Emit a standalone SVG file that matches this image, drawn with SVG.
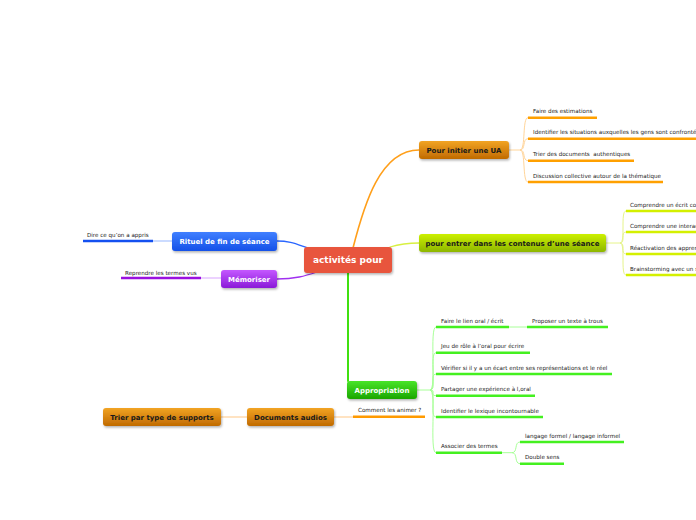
<svg xmlns="http://www.w3.org/2000/svg" width="696" height="520" viewBox="0 0 696 520">
<defs>
<linearGradient id="gOr" x1="0" y1="0" x2="0" y2="1"><stop offset="0" stop-color="#F2A424"/><stop offset="1" stop-color="#C06A00"/></linearGradient>
<linearGradient id="gYe" x1="0" y1="0" x2="0" y2="1"><stop offset="0" stop-color="#CCF000"/><stop offset="1" stop-color="#8DB600"/></linearGradient>
<linearGradient id="gGr" x1="0" y1="0" x2="0" y2="1"><stop offset="0" stop-color="#48E428"/><stop offset="1" stop-color="#1AA600"/></linearGradient>
<linearGradient id="gBl" x1="0" y1="0" x2="0" y2="1"><stop offset="0" stop-color="#4080FF"/><stop offset="1" stop-color="#1450E8"/></linearGradient>
<linearGradient id="gPu" x1="0" y1="0" x2="0" y2="1"><stop offset="0" stop-color="#C458FF"/><stop offset="1" stop-color="#8A1AD8"/></linearGradient>
<filter id="sh" x="-10%" y="-20%" width="125%" height="160%"><feDropShadow dx="1" dy="1.5" stdDeviation="1.2" flood-color="#000" flood-opacity="0.3"/></filter>
</defs>
<style>
.box{filter:url(#sh);stroke:none}
.nt{font-family:"DejaVu Sans",Verdana,sans-serif;font-weight:bold;font-size:7px;text-anchor:middle}
.dk{fill:#1a1a1a}
.wh{fill:#ffffff}
.ct{font-family:"DejaVu Sans",Verdana,sans-serif;font-size:5.6px;fill:#222222}
.ln{fill:none;stroke-linecap:round}
.ul{fill:none;stroke-width:2.6;stroke-linecap:butt}
</style>
<rect width="696" height="520" fill="#ffffff"/>
<g id="connectors">
<path class="ln" d="M353,248 C364,205 380,150 419,150" stroke="#FF9F1A" stroke-width="1.6"/>
<path class="ln" d="M390,247 C400,244 408,243 419,243" stroke="#D8F040" stroke-width="1.3"/>
<path class="ln" d="M348,273 L348,381" stroke="#40E010" stroke-width="2"/>
<path class="ln" d="M308,248 C296,244 290,241 277,241" stroke="#2A66FF" stroke-width="1.3"/>
<path class="ln" d="M317,272 C305,276 295,279 277,279" stroke="#A030F0" stroke-width="1.3"/>
<g stroke="#FFD59A" stroke-width="1" fill="none">
<path d="M509,150 L520,150 C526,150 522,117.7 528,117.7"/>
<path d="M520,150 C526,150 522,138.7 528,138.7"/>
<path d="M520,150 C526,150 522,160.7 528,160.7"/>
<path d="M520,150 C526,150 522,182 528,182"/>
</g>
<g class="ul" stroke="#FFA000">
<path d="M528,117.7 H597"/>
<path d="M528,138.7 H696"/>
<path d="M528,160.7 H634"/>
<path d="M528,182 H663"/>
</g>
<g stroke="#E6F48A" stroke-width="1" fill="none">
<path d="M606,243 L620,243 C626,243 620,211 626,211"/>
<path d="M620,243 C626,243 620,232 626,232"/>
<path d="M620,243 C626,243 620,254 626,254"/>
<path d="M620,243 C626,243 620,275 626,275"/>
</g>
<g class="ul" stroke="#D4F000">
<path d="M626,211 H696"/>
<path d="M626,232 H696"/>
<path d="M626,254 H696"/>
<path d="M626,275 H696"/>
</g>
<g stroke="#A8FF98" stroke-width="1" fill="none">
<path d="M417,390 L430,390 C437,390 429,327 436,327"/>
<path d="M430,390 C437,390 429,352.7 436,352.7"/>
<path d="M430,390 C437,390 429,374 436,374"/>
<path d="M430,390 C437,390 429,395.7 436,395.7"/>
<path d="M430,390 C437,390 429,417 436,417"/>
<path d="M430,390 C437,390 429,452.7 436,452.7"/>
<path d="M509,327 H527"/>
<path d="M502,452.7 L512,452.7 C518,452.7 514,442 520,442"/>
<path d="M512,452.7 C518,452.7 514,463.7 520,463.7"/>
</g>
<g class="ul" stroke="#44F020">
<path d="M436,327 H509"/>
<path d="M527,327 H608"/>
<path d="M436,352.7 H530"/>
<path d="M436,374 H612"/>
<path d="M436,395.7 H535"/>
<path d="M436,417 H543"/>
<path d="M436,452.7 H502"/>
<path d="M520,442 H624"/>
<path d="M520,463.7 H564"/>
</g>
<path d="M153,241 H172" stroke="#A8C4FF" stroke-width="1.2" fill="none"/>
<path class="ul" d="M83,241 H153" stroke="#1450F0"/>
<path d="M201,278 H221" stroke="#E0B4FF" stroke-width="1.2" fill="none"/>
<path class="ul" d="M121,278 H201" stroke="#9A10E0"/>
<path d="M334,417 H353" stroke="#FFD09A" stroke-width="1.2" fill="none"/>
<path d="M221,417 H247" stroke="#FFD09A" stroke-width="1.2" fill="none"/>
<path class="ul" d="M353,416.7 H425" stroke="#FF9A00"/>
</g>
<g id="central">
<rect class="box" x="304" y="247" width="88" height="26" rx="3" fill="#E8553E"/>
<text class="nt wh" x="348" y="263.2" style="font-size:9px">activités pour</text>
</g>
<g id="ua">
<rect class="box" x="419" y="141" width="90" height="18" rx="3" fill="url(#gOr)"/>
<text class="nt dk" x="464" y="152.5">Pour initier une UA</text>
</g>
<g id="ua-children">
<text class="ct" x="533" y="113.2">Faire des estimations</text>
<text class="ct" x="533" y="134.2">Identifier les situations auxquelles les gens sont confrontés</text>
<text class="ct" x="533" y="156.2" xml:space="preserve">Trier des documents  authentiques</text>
<text class="ct" x="533" y="177.5">Discussion collective autour de la thématique</text>
</g>
<g id="entrer">
<rect class="box" x="419" y="234" width="187" height="18" rx="3" fill="url(#gYe)"/>
<text class="nt dk" x="512.5" y="245.5">pour entrer dans les contenus d’une séance</text>
</g>
<g id="entrer-children">
<text class="ct" x="630" y="206.5">Comprendre un écrit co</text>
<text class="ct" x="630" y="227.5">Comprendre une interac</text>
<text class="ct" x="630" y="249.5">Réactivation des appren</text>
<text class="ct" x="630" y="270.5">Brainstorming avec un s</text>
</g>
<g id="appropriation">
<rect class="box" x="347" y="381" width="70" height="18" rx="3" fill="url(#gGr)"/>
<text class="nt wh" x="382" y="392.5">Appropriation</text>
</g>
<g id="appropriation-children">
<text class="ct" x="441" y="322.5">Faire le lien oral / écrit</text>
<text class="ct" x="532" y="322.5">Proposer un texte à trous</text>
<text class="ct" x="441" y="348">Jeu de rôle à l’oral pour écrire</text>
<text class="ct" x="441" y="369.5">Vérifier si il y a un écart entre ses représentations et le réel</text>
<text class="ct" x="441" y="391">Partager une expérience à l,oral</text>
<text class="ct" x="441" y="412.5">Identifier le lexique incontournable</text>
<text class="ct" x="441" y="448">Associer des termes</text>
<text class="ct" x="525" y="437.5">langage formel / langage informel</text>
<text class="ct" x="525" y="459">Double sens</text>
</g>
<g id="comment">
<text class="ct" x="358" y="412">Comment les animer ?</text>
</g>
<g id="documents">
<rect class="box" x="247" y="408" width="87" height="18" rx="3" fill="url(#gOr)"/>
<text class="nt dk" x="290.5" y="419.5">Documents audios</text>
</g>
<g id="trier">
<rect class="box" x="103" y="408" width="118" height="18" rx="3" fill="url(#gOr)"/>
<text class="nt dk" x="162" y="419.5">Trier par type de supports</text>
</g>
<g id="rituel">
<rect class="box" x="172" y="232" width="105" height="19" rx="3" fill="url(#gBl)"/>
<text class="nt wh" x="224.5" y="244">Rituel de fin de séance</text>
<text class="ct" x="87" y="237.2">Dire ce qu’on a appris</text>
</g>
<g id="memoriser">
<rect class="box" x="221" y="270" width="56" height="18" rx="3" fill="url(#gPu)"/>
<text class="nt wh" x="249" y="281.5">Mémoriser</text>
<text class="ct" x="125" y="274.5">Reprendre les termes vus</text>
</g>
</svg>
